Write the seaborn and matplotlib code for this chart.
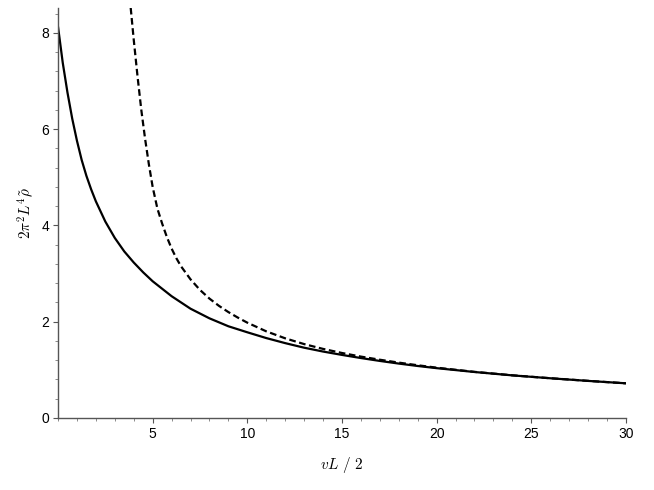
import numpy as np
import pandas as pd
import matplotlib
matplotlib.use("Agg")
import matplotlib.pyplot as plt
from matplotlib.ticker import MultipleLocator
import seaborn as sns

# values
solid_x = [0.0, 0.25, 0.5, 0.75, 1.0, 1.25, 1.5, 1.75, 2.0, 2.5, 3.0, 3.5, 4.0, 4.5, 5.0, 6.0, 7.0, 8.0, 9.0,
           10.0, 11.0, 12.0, 13.0, 14.0, 15.0, 16.0, 17.0, 18.0, 19.0, 20.0, 22.0, 24.0, 26.0, 28.0, 30.0]
solid_y = [8.13, 7.38, 6.76, 6.22, 5.76, 5.36, 5.03, 4.75, 4.50, 4.08, 3.74, 3.46, 3.23, 3.025, 2.84, 2.53, 2.27, 2.07, 1.905,
           1.78, 1.66, 1.555, 1.46, 1.38, 1.31, 1.245, 1.185, 1.13, 1.08, 1.035, 0.955, 0.885, 0.825, 0.77, 0.72]

dashed_x = [3.84, 4.0, 4.2, 4.4, 4.6, 4.8, 5.0, 5.25, 5.5, 5.75, 6.0, 6.25, 6.5, 7.0, 7.5, 8.0, 8.5, 9.0, 9.5,
            10.0, 11.0, 12.0, 13.0, 14.0, 15.0, 16.0, 17.0, 18.0, 19.0, 20.0, 22.0, 24.0, 26.0, 28.0, 30.0]
dashed_y = [8.52, 7.86, 7.10, 6.40, 5.80, 5.27, 4.80, 4.35, 4.04, 3.76, 3.52, 3.32, 3.15, 2.88, 2.66, 2.48, 2.33, 2.20, 2.085,
            1.98, 1.80, 1.655, 1.535, 1.435, 1.35, 1.275, 1.21, 1.15, 1.095, 1.045, 0.958, 0.886, 0.826, 0.771, 0.72]

x_ticks = [5, 10, 15, 20, 25, 30]
y_ticks = [0, 2, 4, 6, 8]

sns.set_style("ticks")
plt.rcParams["font.family"] = ["Liberation Sans", "DejaVu Sans"]
plt.rcParams["mathtext.fontset"] = "cm"

fig = plt.figure(figsize=(6.54, 4.9), dpi=100)
ax = fig.add_axes([0.0887, 0.147, 0.957 - 0.0887, 0.984 - 0.147])

df_s = pd.DataFrame({"x": solid_x, "y": solid_y})
df_d = pd.DataFrame({"x": dashed_x, "y": dashed_y})

sns.lineplot(data=df_s, x="x", y="y", ax=ax, color="black", lw=1.6)
sns.lineplot(data=df_d, x="x", y="y", ax=ax, color="black", lw=1.6)
ax.lines[-1].set_dashes((3, 1.6))

ax.set_xlim(0, 30)
ax.set_ylim(0, 8.52)
ax.set_xticks(x_ticks)
ax.set_yticks(y_ticks)
ax.xaxis.set_minor_locator(MultipleLocator(1))
ax.yaxis.set_minor_locator(MultipleLocator(0.4))
ax.tick_params(which="major", length=3.5, width=0.8, color="#555555", labelsize=10,
               labelcolor="black", pad=3)
ax.tick_params(which="minor", length=2, width=0.6, color="#777777")

sns.despine(ax=ax)
for s in ["left", "bottom"]:
    ax.spines[s].set_color("#555555")
    ax.spines[s].set_linewidth(1.0)

ax.set_xlabel(r"$vL\ /\ 2$", fontsize=11, labelpad=10, color="black")
ax.set_ylabel(r"$2\pi^2L^4\tilde{\rho}$", fontsize=11, labelpad=4, color="black")

fig.savefig("out.png", dpi=100)
